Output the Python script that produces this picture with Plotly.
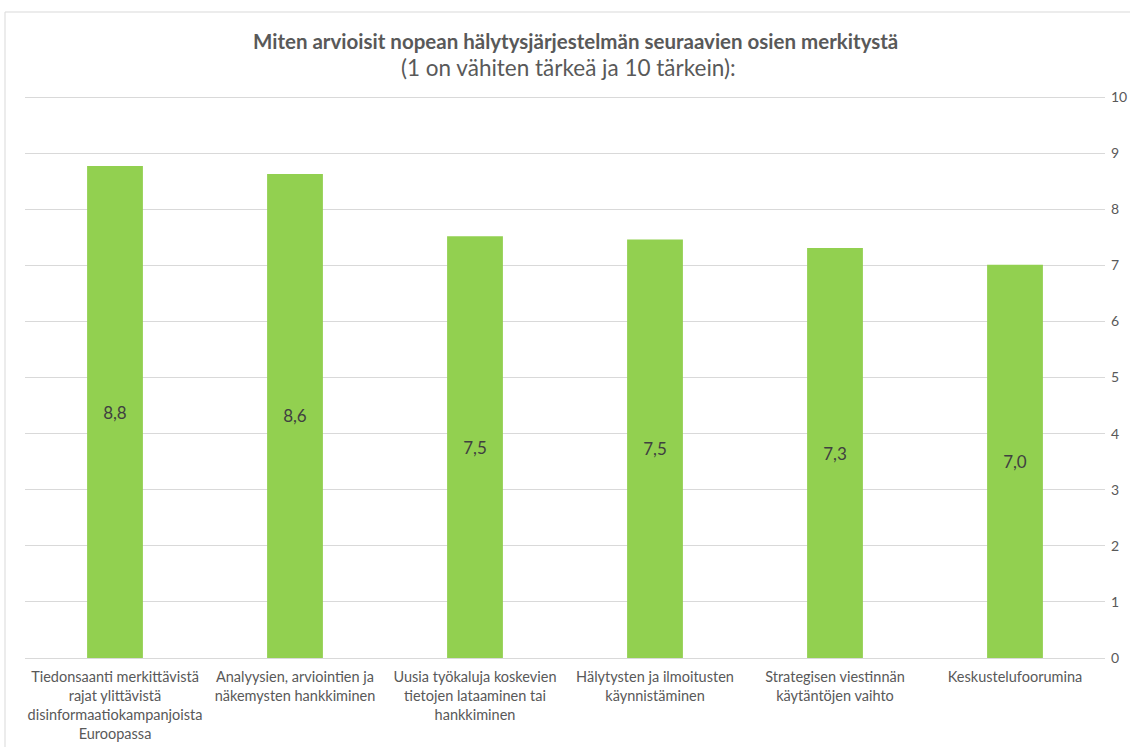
import plotly.graph_objects as go

# Survey categories (wrapped for the x axis) and mean importance scores
categories = [
    "Tiedonsaanti merkittävistä<br>rajat ylittävistä<br>disinformaatiokampanjoista<br>Euroopassa",
    "Analyysien, arviointien ja<br>näkemysten hankkiminen",
    "Uusia työkaluja koskevien<br>tietojen lataaminen tai<br>hankkiminen",
    "Hälytysten ja ilmoitusten<br>käynnistäminen",
    "Strategisen viestinnän<br>käytäntöjen vaihto",
    "Keskustelufoorumina",
]
scores = [8.77, 8.63, 7.52, 7.46, 7.31, 7.01]
tick_values = list(range(0, 11))

labels = [f"{v:.1f}".replace(".", ",") for v in scores]

W, H = 1130, 747
L, R, T, B = 25, 25, 96, 89
plot_w = W - L - R
plot_h = H - T - B

fig = go.Figure(
    go.Bar(
        x=categories,
        y=scores,
        width=0.31,
        marker=dict(color="#92D050", line=dict(width=0)),
        text=labels,
        textposition="inside",
        insidetextanchor="middle",
        textangle=0,
        textfont=dict(family="Lato, Open Sans, sans-serif", size=17, color="#404040"),
        hoverinfo="skip",
    )
)

fig.update_layout(
    width=W,
    height=H,
    margin=dict(l=L, r=R, t=T, b=B, autoexpand=False),
    paper_bgcolor="white",
    plot_bgcolor="white",
    showlegend=False,
    bargap=0.69,
    font=dict(family="Lato, Open Sans, sans-serif", color="#595959"),
    xaxis=dict(
        tickfont=dict(size=14.5, color="#595959"),
        showgrid=False,
        showline=True,
        linecolor="#d9d9d9",
        linewidth=1,
        ticks="",
        ticklabelstandoff=6,
        automargin=False,
        fixedrange=True,
    ),
    yaxis=dict(
        side="right",
        range=[0, 10.02],
        tickvals=tick_values,
        tickfont=dict(size=14, color="#595959"),
        showgrid=True,
        gridcolor="#d9d9d9",
        gridwidth=1,
        zeroline=False,
        showline=False,
        ticks="",
        ticklabelstandoff=5,
        automargin=False,
        fixedrange=True,
    ),
    annotations=[
        dict(
            text="<b>Miten arvioisit nopean hälytysjärjestelmän seuraavien osien merkitystä</b>",
            xref="paper", yref="paper",
            x=(575 - L) / plot_w, y=(H - B - 41) / plot_h,
            xanchor="center", yanchor="middle",
            showarrow=False,
            font=dict(size=20.5, color="#595959"),
        ),
        dict(
            text="(1 on vähiten tärkeä ja 10 tärkein):",
            xref="paper", yref="paper",
            x=(568 - L) / plot_w, y=(H - B - 67) / plot_h,
            xanchor="center", yanchor="middle",
            showarrow=False,
            font=dict(size=22.5, color="#595959"),
        ),
    ],
    shapes=[
        dict(
            type="rect",
            xref="paper", yref="paper",
            x0=(5 - L) / plot_w, x1=(W + 20 - L) / plot_w,
            y0=(H - B - (H + 20)) / plot_h, y1=(H - B - 12) / plot_h,
            line=dict(color="#d9d9d9", width=1),
            fillcolor="rgba(0,0,0,0)",
            layer="below",
        )
    ],
)

fig.write_html("out.html")
